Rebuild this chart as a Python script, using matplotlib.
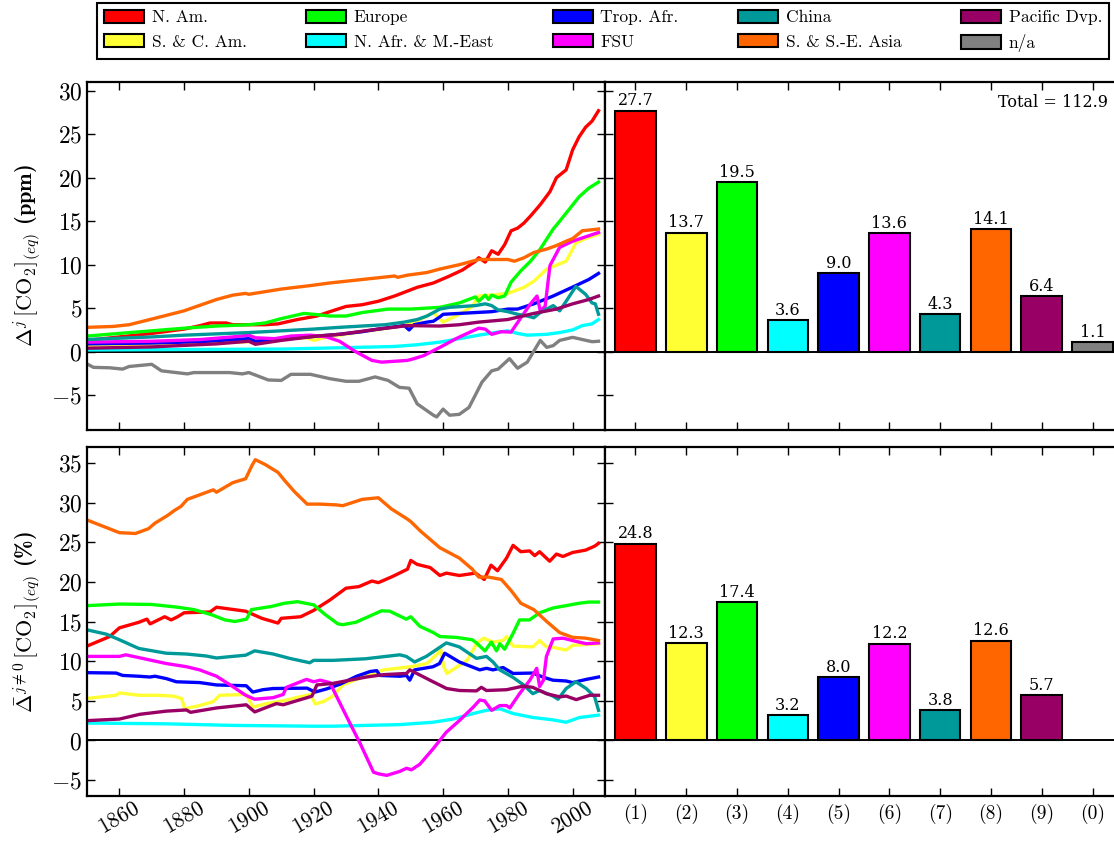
import matplotlib
matplotlib.use('Agg')
import matplotlib.pyplot as plt
from matplotlib.patches import Patch

plt.rcParams['font.family'] = 'cmr10'
plt.rcParams['mathtext.fontset'] = 'cm'
plt.rcParams['axes.formatter.use_mathtext'] = True

regions = ['N. Am.', 'S. & C. Am.', 'Europe', 'N. Afr. & M.-East', 'Trop. Afr.',
           'FSU', 'China', 'S. & S.-E. Asia', 'Pacific Dvp.', 'n/a']
colors = ['#ff0000', '#ffff33', '#00ff00', '#00ffff', '#0000ff',
          '#ff00ff', '#009999', '#ff6600', '#990066', '#808080']
bar_labels = ['(1)', '(2)', '(3)', '(4)', '(5)', '(6)', '(7)', '(8)', '(9)', '(0)']

# bar values
top_bars = [27.7, 13.7, 19.5, 3.6, 9.0, 13.6, 4.3, 14.1, 6.4, 1.1]
bot_bars = [24.8, 12.3, 17.4, 3.2, 8.0, 12.2, 3.8, 12.6, 5.7]
total = 112.9

# top panel: contribution in ppm, (year, value)
top_nam = [(1850, 1.3), (1860, 1.7), (1870, 2.1), (1880, 2.6), (1885, 3.0), (1888, 3.3), (1893, 3.3),
           (1895, 3.1), (1900, 3.1), (1905, 3.1), (1909, 3.2), (1915, 3.7), (1921, 4.1), (1925, 4.6),
           (1930, 5.2), (1935, 5.4), (1940, 5.8), (1945, 6.4), (1952, 7.4), (1957, 7.9), (1962, 8.7),
           (1966, 9.4), (1970, 10.4), (1971, 10.8), (1973, 10.3), (1975, 11.6), (1977, 11.2),
           (1979, 12.3), (1981, 13.9), (1983, 14.2), (1985, 14.8), (1987, 15.6), (1990, 16.9),
           (1993, 18.4), (1995, 20.0), (1998, 20.9), (2000, 23.2), (2002, 24.7), (2004, 25.8),
           (2006, 26.5), (2008, 27.7)]
top_sca = [(1850, 0.7), (1870, 0.8), (1885, 0.95), (1900, 1.15), (1905, 1.3), (1912, 1.5), (1918, 1.6),
           (1920, 1.3), (1923, 1.6), (1928, 1.9), (1935, 2.3), (1941, 2.6), (1948, 3.0), (1953, 3.7),
           (1957, 4.5), (1960, 3.4), (1965, 4.3), (1969, 5.2), (1971, 6.4), (1975, 6.5), (1980, 6.7),
           (1985, 7.4), (1988, 8.1), (1992, 9.5), (1994, 9.8), (1998, 10.4), (2001, 12.5),
           (2004, 13.0), (2008, 13.5)]
top_eur = [(1850, 1.8), (1860, 2.1), (1870, 2.4), (1880, 2.7), (1890, 2.95), (1900, 3.1), (1905, 3.3),
           (1910, 3.8), (1917, 4.4), (1920, 4.3), (1925, 4.1), (1930, 4.1), (1935, 4.5), (1943, 4.9),
           (1950, 4.9), (1959, 5.1), (1965, 5.6), (1970, 6.3), (1971, 5.8), (1973, 6.5), (1974, 6.0),
           (1975, 6.5), (1977, 6.2), (1979, 6.4), (1981, 8.0), (1984, 9.3), (1987, 10.4),
           (1990, 11.8), (1994, 14.1), (1996, 15.0), (1999, 16.4), (2002, 17.8), (2005, 18.8),
           (2008, 19.5)]
top_mena = [(1850, 0.2), (1880, 0.25), (1910, 0.3), (1928, 0.45), (1945, 0.6), (1952, 0.8), (1959, 1.1),
            (1965, 1.5), (1971, 1.9), (1976, 2.2), (1980, 2.4), (1983, 2.1), (1986, 1.9), (1992, 2.0),
            (1996, 2.2), (2000, 2.5), (2003, 3.0), (2006, 3.2), (2008, 3.7)]
top_trop = [(1850, 0.9), (1870, 1.0), (1885, 1.15), (1900, 1.5), (1902, 1.2), (1910, 1.45), (1920, 1.75),
            (1928, 2.0), (1935, 2.3), (1940, 2.6), (1948, 3.0), (1949.5, 2.5), (1951, 3.1), (1955, 3.4),
            (1957, 3.5), (1959, 4.0), (1960, 4.3), (1965, 4.4), (1970, 4.5), (1975, 4.6), (1980, 4.9),
            (1983, 4.9), (1988, 5.5), (1994, 6.4), (2001, 7.6), (2005, 8.3), (2008, 9.0)]
top_fsu = [(1850, 1.1), (1870, 1.2), (1885, 1.4), (1895, 1.7), (1900, 1.9), (1902, 1.6), (1908, 1.5),
           (1913, 1.8), (1919, 1.9), (1924, 1.7), (1928, 1.2), (1933, 0.0), (1938, -1.0), (1941, -1.2),
           (1945, -1.1), (1949, -1.0), (1951, -0.8), (1954, -0.45), (1959, 0.5), (1964, 1.5),
           (1968, 2.2), (1971, 2.7), (1973, 2.6), (1975, 2.0), (1978, 2.3), (1981, 2.25), (1984, 3.9),
           (1987, 5.5), (1989, 6.4), (1990, 4.7), (1991.5, 5.2), (1993, 9.9), (1996, 12.0),
           (2000, 12.7), (2004, 13.2), (2008, 13.7)]
top_china = [(1850, 1.4), (1860, 1.55), (1870, 1.7), (1880, 1.9), (1890, 2.05), (1900, 2.2), (1910, 2.4),
             (1920, 2.6), (1928, 2.8), (1935, 2.95), (1942, 3.1), (1948, 3.4), (1952, 3.7), (1955, 4.1),
             (1959, 4.9), (1962, 5.1), (1970, 5.3), (1973, 5.5), (1975, 5.3), (1977, 4.8), (1980, 4.6),
             (1983, 4.3), (1986, 4.1), (1988, 3.9), (1990, 4.5), (1992, 4.9), (1994, 5.3), (1996, 4.7),
             (1998, 5.8), (2001, 7.5), (2004, 6.6), (2006, 5.6), (2007, 5.5), (2008, 4.3)]
top_asia = [(1850, 2.8), (1858, 2.9), (1863, 3.1), (1870, 3.75), (1880, 4.7), (1890, 6.0), (1895, 6.5),
            (1899, 6.7), (1900, 6.6), (1905, 6.9), (1910, 7.2), (1919, 7.6), (1925, 7.9), (1930, 8.1),
            (1940, 8.5), (1945, 8.7), (1946, 8.55), (1949, 8.8), (1955, 9.1), (1959, 9.5), (1965, 10.0),
            (1971, 10.6), (1975, 10.6), (1980, 10.6), (1982, 10.4), (1985, 10.8), (1988, 11.4),
            (1992, 11.8), (1995, 12.2), (1998, 12.7), (2000, 13.0), (2003, 13.9), (2008, 14.1)]
top_pac = [(1850, 0.4), (1870, 0.55), (1890, 0.9), (1900, 1.2), (1902, 0.85), (1910, 1.3), (1921, 1.8),
           (1928, 2.0), (1940, 2.6), (1949, 3.0), (1959, 2.95), (1965, 3.1), (1971, 3.4), (1980, 3.7),
           (1988, 4.4), (1995, 4.9), (2000, 5.5), (2005, 6.0), (2008, 6.4)]
top_na = [(1850, -1.4), (1852, -1.8), (1857, -1.85), (1861, -2.0), (1863, -1.7), (1870, -1.45),
          (1873, -2.2), (1881, -2.55), (1883, -2.4), (1894, -2.4), (1898, -2.55), (1900, -2.4),
          (1906, -3.25), (1910, -3.3), (1913, -2.6), (1919, -2.6), (1925, -3.1), (1930, -3.4),
          (1934, -3.4), (1939, -2.9), (1943, -3.3), (1946.5, -4.1), (1949.5, -4.2), (1952, -6.0),
          (1957, -7.3), (1958, -7.5), (1960, -6.6), (1962, -7.3), (1965, -7.2), (1968, -6.4),
          (1972, -3.5), (1975, -2.2), (1977, -2.0), (1980.5, -0.8), (1983, -1.9), (1986, -1.2),
          (1990, 1.3), (1992, 0.5), (1994, 0.7), (1996, 1.3), (2000, 1.65), (2003, 1.4),
          (2006, 1.15), (2008, 1.2)]

# bottom panel: relative share in %, (year, value)
bot_nam = [(1850, 11.9), (1857, 13.1), (1860, 14.2), (1866, 14.9), (1868.5, 15.3), (1869.5, 14.7),
           (1874, 15.6), (1876, 15.2), (1878, 15.6), (1880, 16.1), (1888, 16.2), (1890, 16.8),
           (1899, 16.3), (1904, 15.4), (1909, 14.8), (1910, 15.4), (1916, 15.6), (1920, 16.4),
           (1925, 17.7), (1930, 19.2), (1934, 19.4), (1938, 20.1), (1940, 19.9), (1944.5, 20.7),
           (1949, 21.6), (1950, 22.7), (1952, 22.2), (1956, 21.8), (1959, 20.8), (1961, 21.1),
           (1965, 20.8), (1970, 21.1), (1972.7, 20.3), (1974.8, 22.1), (1976.8, 21.4), (1979.6, 23.0),
           (1981.6, 24.6), (1984, 23.8), (1986.7, 23.9), (1988.3, 23.3), (1989.8, 23.8),
           (1992.9, 22.6), (1995, 23.5), (1997, 23.2), (2000, 23.7), (2004, 24.0), (2006.8, 24.5),
           (2008, 24.85)]
bot_sca = [(1850, 5.3), (1859, 5.7), (1860, 6.0), (1866, 5.7), (1871.5, 5.7), (1876.6, 5.6),
           (1879.2, 5.3), (1880.2, 4.0), (1884.8, 4.4), (1889, 4.9), (1891, 5.7), (1899.2, 5.8),
           (1901.2, 4.2), (1905.4, 4.65), (1910.6, 5.0), (1915.7, 5.5), (1919, 5.8), (1920.5, 4.6),
           (1923, 4.9), (1926, 5.6), (1929, 7.0), (1935, 8.0), (1941.6, 8.9), (1950, 9.3), (1955, 9.7),
           (1958.2, 10.9), (1959.2, 11.6), (1960.2, 9.3), (1961.2, 8.45), (1967.4, 10.1),
           (1970.5, 12.3), (1972.5, 12.9), (1975.4, 12.4), (1978.5, 12.6), (1979.6, 13.1),
           (1981.6, 11.9), (1987.7, 11.8), (1989.8, 12.6), (1991.9, 11.8), (1993.9, 11.75),
           (1998, 11.4), (2000, 12.0), (2004, 12.1), (2008, 12.2)]
bot_eur = [(1850, 17.0), (1860, 17.2), (1870, 17.15), (1878, 16.8), (1883, 16.5), (1888.5, 15.85),
           (1892.6, 15.2), (1895.7, 15.0), (1899.3, 15.3), (1900.8, 16.5), (1907, 16.9), (1911, 17.3),
           (1915, 17.5), (1920, 17.1), (1923.5, 15.9), (1927.5, 14.7), (1929, 14.6), (1933, 14.9),
           (1941, 16.35), (1943.5, 16.3), (1948.6, 15.3), (1950, 15.6), (1952.8, 14.4), (1957, 13.6),
           (1959, 13.1), (1964, 13.0), (1969, 12.7), (1970.3, 12.3), (1972.9, 11.3), (1974.9, 12.4),
           (1976.5, 11.3), (1977.5, 12.2), (1979, 11.5), (1981.6, 13.5), (1983.6, 15.2),
           (1986.7, 15.2), (1989.8, 16.1), (1993.9, 16.7), (1998, 17.0), (2002, 17.3),
           (2005, 17.45), (2008, 17.45)]
bot_mena = [(1850, 2.2), (1874.5, 2.1), (1895, 1.9), (1920, 1.8), (1926, 1.8), (1936, 1.9),
            (1946.6, 2.0), (1956.9, 2.3), (1963.1, 2.7), (1969.3, 3.4), (1973.4, 3.8), (1977.5, 4.0),
            (1981.6, 3.4), (1987.7, 2.9), (1993.9, 2.6), (1998, 2.3), (2002.2, 2.9), (2008, 3.2)]
bot_trop = [(1850, 8.55), (1859, 8.5), (1861, 8.2), (1866, 8.1), (1869.4, 8.0), (1871, 8.1),
            (1874.5, 7.8), (1877.6, 7.4), (1884.8, 7.3), (1890, 7.0), (1899.2, 6.9), (1901.2, 6.1),
            (1904.3, 6.4), (1907.5, 6.55), (1918, 6.6), (1920.4, 6.1), (1924, 6.5), (1928.2, 7.1),
            (1933.3, 8.1), (1937.5, 8.7), (1939.5, 8.8), (1940.5, 8.2), (1946.6, 8.1), (1948.7, 8.2),
            (1949.7, 7.6), (1951.2, 8.9), (1956.9, 9.3), (1958.9, 9.7), (1960.5, 11.0), (1965, 9.9),
            (1971.3, 8.9), (1973.4, 9.1), (1975.4, 8.9), (1978.5, 9.2), (1981.6, 8.45), (1987.7, 8.5),
            (1990.8, 8.0), (1993.9, 7.6), (1998, 7.5), (2000, 7.3), (2004.2, 7.7), (2008, 8.0)]
bot_fsu = [(1850, 10.6), (1860, 10.6), (1862, 10.8), (1866, 10.45), (1874.5, 9.7), (1880.7, 9.3),
           (1884.8, 8.9), (1890, 8.1), (1895, 6.8), (1899, 5.7), (1901.8, 5.2), (1907.5, 5.4),
           (1910.6, 5.8), (1911.6, 6.7), (1917.8, 7.7), (1920, 7.4), (1922, 7.6), (1925, 7.3),
           (1928.2, 4.65), (1931.3, 2.1), (1934.4, -0.4), (1938.5, -4.0), (1940, -4.2), (1942.6, -4.4),
           (1946.6, -3.9), (1948.7, -3.5), (1950.2, -3.7), (1952.8, -3.0), (1956.9, -1.05),
           (1961, 1.05), (1965, 2.5), (1969.3, 4.2), (1971.3, 5.1), (1972.8, 5.0), (1975, 3.8),
           (1977.5, 4.4), (1979.6, 4.4), (1980.6, 4.1), (1983.6, 5.9), (1986.8, 7.6), (1988.9, 9.1),
           (1989.8, 6.8), (1991, 7.6), (1991.9, 10.6), (1994, 12.8), (1997, 12.9), (2001, 12.5),
           (2004.2, 12.2), (2008, 12.3)]
bot_china = [(1850, 13.95), (1856, 13.4), (1860, 12.7), (1866, 11.6), (1874.5, 11.0), (1880.7, 10.9),
             (1886.8, 10.65), (1890, 10.4), (1895, 10.6), (1899, 10.75), (1901.8, 11.3), (1907.5, 10.9),
             (1912.6, 10.35), (1918.8, 9.8), (1920, 10.1), (1926, 10.1), (1936, 10.3), (1946.6, 10.8),
             (1948.6, 10.6), (1951.2, 9.9), (1954.8, 10.6), (1961, 12.3), (1965, 11.8), (1970.3, 10.35),
             (1973.4, 10.6), (1975.4, 9.9), (1977.5, 8.9), (1981.6, 7.95), (1984.7, 7.05),
             (1987.7, 5.9), (1989.8, 6.3), (1993.9, 5.6), (1995.5, 5.2), (1998, 6.55), (2001, 7.4),
             (2004.2, 6.55), (2006.8, 5.5), (2008, 3.8)]
bot_asia = [(1850, 27.8), (1855, 27.0), (1860, 26.2), (1865, 26.1), (1869, 26.7), (1871, 27.4),
            (1875, 28.4), (1877, 29.0), (1879, 29.5), (1881, 30.4), (1885, 31.0), (1889, 31.6),
            (1890, 31.3), (1895, 32.5), (1899, 33.0), (1901, 34.7), (1902, 35.4), (1905, 34.8),
            (1909, 33.8), (1911, 32.8), (1914, 31.4), (1918, 29.8), (1922, 29.8), (1927, 29.7),
            (1929, 29.6), (1935, 30.4), (1940, 30.6), (1944, 29.2), (1949, 27.9), (1950, 27.6),
            (1953, 26.4), (1959, 24.3), (1965, 23.0), (1969, 21.6), (1971, 20.6), (1974, 20.6),
            (1978, 20.3), (1981, 18.9), (1984, 17.3), (1988, 16.5), (1992, 15.0), (1996, 13.6),
            (2000, 13.0), (2004, 12.9), (2008, 12.6)]
bot_pac = [(1850, 2.5), (1860, 2.7), (1866.3, 3.3), (1874.5, 3.7), (1880.7, 3.85), (1882, 3.55),
           (1890, 4.1), (1899.2, 4.5), (1901.8, 3.6), (1908.5, 4.65), (1910.6, 4.5), (1918.8, 5.5),
           (1919.5, 5.6), (1921, 7.0), (1926, 7.2), (1936.3, 8.0), (1941.6, 8.3), (1948.7, 8.45),
           (1949.7, 8.9), (1956.9, 7.4), (1961.1, 6.55), (1965.1, 6.3), (1970.3, 6.25), (1971.8, 6.7),
           (1973.4, 6.3), (1979.6, 6.4), (1984.7, 6.85), (1987.7, 6.7), (1991.9, 5.9), (1996, 5.5),
           (1998, 5.6), (2001.1, 5.15), (2005.3, 5.7), (2008, 5.7)]

top_series = [top_nam, top_sca, top_eur, top_mena, top_trop, top_fsu, top_china, top_asia, top_pac, top_na]
bot_series = [bot_nam, bot_sca, bot_eur, bot_mena, bot_trop, bot_fsu, bot_china, bot_asia, bot_pac]

W, H = 1114, 841
fig = plt.figure(figsize=(W / 100, H / 100), dpi=100)
ax_tl = fig.add_axes([87 / W, 1 - 430 / H, 518 / W, 348 / H])
ax_tr = fig.add_axes([605 / W, 1 - 430 / H, 518 / W, 348 / H])
ax_bl = fig.add_axes([87 / W, 1 - 796 / H, 518 / W, 349 / H])
ax_br = fig.add_axes([605 / W, 1 - 796 / H, 518 / W, 349 / H])

for ax in [ax_tl, ax_tr, ax_bl, ax_br]:
    for s in ax.spines.values():
        s.set_linewidth(1.6)
    ax.axhline(0, color='k', lw=1.4, zorder=1)
    ax.tick_params(direction='in', length=6, width=1, labelsize=17, top=True, right=True)

# line panels
for ax, series in [(ax_tl, top_series), (ax_bl, bot_series)]:
    for data, c in zip(series, colors):
        xs = [p[0] for p in data]
        ys = [p[1] for p in data]
        ax.plot(xs, ys, color=c, lw=2.4, zorder=2)
    ax.set_xlim(1850, 2010)
    ax.set_xticks(range(1860, 2001, 20))

ax_tl.set_ylim(-9, 31)
ax_tl.set_yticks(range(-5, 31, 5))
ax_tl.tick_params(labelbottom=False)
ax_bl.set_ylim(-7, 37)
ax_bl.set_yticks(range(-5, 36, 5))
ax_bl.tick_params(axis='x', labelsize=15.5, pad=2)
for lab in ax_bl.get_xticklabels():
    lab.set_rotation(30)

# math part stays regular, the unit in brackets comes out bold
ax_tl.set_ylabel(r'$\Delta^j\,[\mathrm{CO}_2]_{(eq)}$ (ppm)', fontsize=16, labelpad=6, family='cmb10')
ax_bl.set_ylabel(r'$\bar{\Delta}^{j\neq 0}\,[\mathrm{CO}_2]_{(eq)}$ (%)', fontsize=16, labelpad=6,
                 family='cmb10')

# bar panels
for ax, vals, ylim in [(ax_tr, top_bars, (-9, 31)), (ax_br, bot_bars, (-7, 37))]:
    idx = list(range(len(vals)))
    ax.bar(idx, vals, width=0.8, color=colors[:len(vals)], edgecolor='k', linewidth=1.5, zorder=3)
    for i, v in zip(idx, vals):
        ax.annotate(f'{v:.1f}', (i, v), xytext=(0, 1), textcoords='offset points',
                    ha='center', va='bottom', fontsize=11.5, family='DejaVu Serif')
    ax.set_xlim(-0.6, 9.6)
    ax.set_xticks(range(10))
    ax.set_yticks(ax_tl.get_yticks() if ax is ax_tr else ax_bl.get_yticks())
    ax.set_ylim(*ylim)
    ax.tick_params(labelleft=False, right=False)

ax_tr.tick_params(labelbottom=False)
ax_br.set_xticklabels(bar_labels, fontsize=14)
ax_br.tick_params(axis='x', pad=6)
ax_tr.text(0.971, 0.94, f'Total = {total}', transform=ax_tr.transAxes, ha='right', va='center',
           fontsize=11.5, family='DejaVu Serif')

handles = [Patch(facecolor=c, edgecolor='k', linewidth=1.5, label=r) for c, r in zip(colors, regions)]
leg = fig.legend(handles=handles, ncol=5, loc='lower left', mode='expand',
                 bbox_to_anchor=(97 / W, 1 - 59 / H, 1012 / W, 54 / H), fontsize=12.5,
                 frameon=True, fancybox=False, edgecolor='k', framealpha=1,
                 handlelength=2.3, handleheight=0.8, handletextpad=0.45, borderaxespad=0)
leg.get_frame().set_linewidth(1.5)

fig.savefig('out.png', dpi=100)
